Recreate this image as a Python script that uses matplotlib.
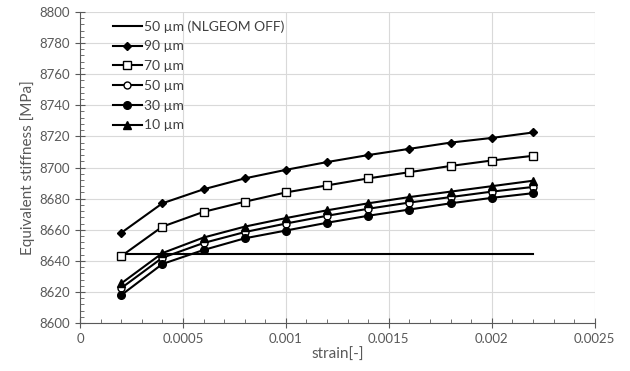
import matplotlib.pyplot as plt
from matplotlib.ticker import MultipleLocator

plt.rcParams['font.family'] = ['Lato', 'DejaVu Sans']

strain = [0.0002, 0.0004, 0.0006, 0.0008, 0.0010, 0.0012,
          0.0014, 0.0016, 0.0018, 0.0020, 0.0022]

nlgeom_off = [8644.5] * 11
um90 = [8658, 8677, 8686, 8693, 8698.5, 8703.5, 8708, 8712, 8716, 8719, 8722.5]
um70 = [8643, 8662, 8671.5, 8678, 8684, 8688.5, 8693, 8697, 8701, 8704.5, 8707.5]
um50 = [8622.5, 8642, 8651.5, 8658.5, 8664, 8669, 8673.5, 8677.5, 8681, 8684.5, 8687.5]
um30 = [8618, 8638, 8647, 8654.5, 8659.5, 8664.5, 8669, 8673, 8677, 8680.5, 8683.5]
um10 = [8625.5, 8645, 8655, 8662, 8667.5, 8672.5, 8677, 8681, 8684.5, 8688, 8691.5]

fig = plt.figure(figsize=(6.3, 3.71), dpi=100)
ax = fig.add_axes([0.127, 0.129, 0.817, 0.839])

lw = 1.5
ax.plot(strain, nlgeom_off, color='black', lw=lw, label='50 µm (NLGEOM OFF)')
ax.plot(strain, um90, color='black', lw=lw, marker='D', ms=3.8, label='90 µm')
ax.plot(strain, um70, color='black', lw=lw, marker='s', ms=5.5, mfc='white', mew=1, label='70 µm')
ax.plot(strain, um50, color='black', lw=lw, marker='o', ms=5, mfc='white', mew=1, label='50 µm')
ax.plot(strain, um30, color='black', lw=lw, marker='o', ms=5.5, label='30 µm')
ax.plot(strain, um10, color='black', lw=lw, marker='^', ms=5.5, label='10 µm')

ax.set_xlim(0, 0.0025)
ax.set_ylim(8600, 8800)
ax.xaxis.set_major_locator(MultipleLocator(0.0005))
ax.xaxis.set_minor_locator(MultipleLocator(0.0001))
ax.yaxis.set_major_locator(MultipleLocator(20))
ax.yaxis.set_minor_locator(MultipleLocator(4))
ax.set_xticks([0, 0.0005, 0.001, 0.0015, 0.002, 0.0025])
ax.set_xticklabels(['0', '0.0005', '0.001', '0.0015', '0.002', '0.0025'])

ax.grid(True, which='major', color='#d9d9d9', lw=0.8)
ax.set_axisbelow(True)
for s in ['top', 'right']:
    ax.spines[s].set_visible(False)
for s in ['left', 'bottom']:
    ax.spines[s].set_color('#595959')
    ax.spines[s].set_linewidth(0.8)

ax.tick_params(which='major', direction='inout', length=7, color='#595959',
               labelcolor='#595959', labelsize=9.5)
ax.tick_params(which='minor', direction='in', length=3, color='#595959')

ax.set_xlabel('strain[-]', fontsize=11, color='#595959', labelpad=2)
ax.set_ylabel('Equivalent stiffness [MPa]', fontsize=11, color='#595959', labelpad=3)

leg = ax.legend(loc='upper left', bbox_to_anchor=(0.045, 1.005), frameon=False,
                fontsize=10, handlelength=2.1, handletextpad=0.15,
                labelspacing=0.56, borderaxespad=0.3)
for t in leg.get_texts():
    t.set_color('#404040')

fig.savefig('out.png', dpi=100)
